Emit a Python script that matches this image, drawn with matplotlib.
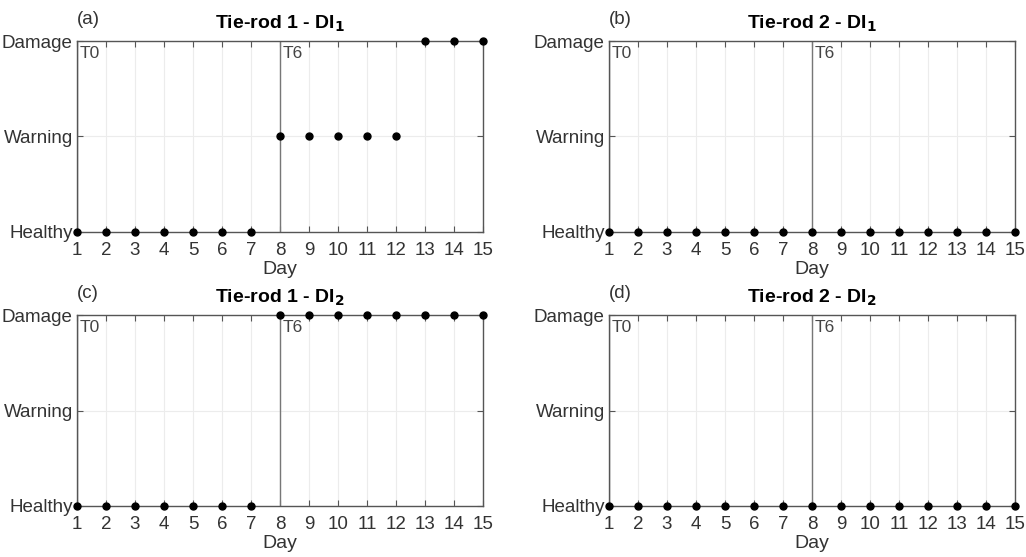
import matplotlib.pyplot as plt
import numpy as np

plt.rcParams['font.family'] = ['Liberation Sans', 'DejaVu Sans']

# Datos
days = np.arange(1, 16)
state_labels = ['Healthy', 'Warning', 'Damage']
# 0 = Healthy, 1 = Warning, 2 = Damage
tr1_di1 = [0, 0, 0, 0, 0, 0, 0, 1, 1, 1, 1, 1, 2, 2, 2]
tr2_di1 = [0, 0, 0, 0, 0, 0, 0, 0, 0, 0, 0, 0, 0, 0, 0]
tr1_di2 = [0, 0, 0, 0, 0, 0, 0, 2, 2, 2, 2, 2, 2, 2, 2]
tr2_di2 = [0, 0, 0, 0, 0, 0, 0, 0, 0, 0, 0, 0, 0, 0, 0]

panels = [
    ('(a)', 'Tie-rod 1 - DI$_\\mathbf{1}$', tr1_di1),
    ('(b)', 'Tie-rod 2 - DI$_\\mathbf{1}$', tr2_di1),
    ('(c)', 'Tie-rod 1 - DI$_\\mathbf{2}$', tr1_di2),
    ('(d)', 'Tie-rod 2 - DI$_\\mathbf{2}$', tr2_di2),
]
markers_at = [('T0', 1), ('T6', 8)]

fig = plt.figure(figsize=(10.26, 5.57), dpi=100)
W, H = 1026, 557
boxes = [(77, 41), (609, 41), (77, 315), (609, 315)]
aw, ah = 406, 191

frame_col = '#555555'
for (lbl, title, vals), (x0, y0) in zip(panels, boxes):
    ax = fig.add_axes([x0 / W, 1 - (y0 + ah) / H, aw / W, ah / H])
    ax.set_xlim(1, 15)
    ax.set_ylim(0, 2)
    ax.set_xticks(days)
    ax.set_yticks([0, 1, 2])
    ax.set_yticklabels(state_labels)
    ax.grid(True, color='#ececec', linewidth=0.8)
    for name, d in markers_at:
        ax.axvline(d, color='#777777', linewidth=1.0)
        ax.text(d + 0.08, 1.95, name, va='top', ha='left', fontsize=12.5, color='#444444')
    ax.plot(days, vals, 'o', color='black', markersize=5, clip_on=False, zorder=5)
    ax.tick_params(direction='in', top=True, right=True, length=4, color=frame_col,
                   labelsize=13.5, labelcolor='#333333')
    ax.tick_params(axis='x', pad=7)
    ax.tick_params(axis='y', pad=3)
    for sp in ax.spines.values():
        sp.set_color(frame_col)
        sp.set_linewidth(1.0)
    ax.set_xlabel('Day', fontsize=14, color='#333333', labelpad=2)
    ax.set_title(title, fontsize=14, fontweight='bold', pad=9)
    ax.text(0.0, 1.07, lbl, transform=ax.transAxes, fontsize=13.5, color='#333333',
            ha='left', va='bottom')

fig.savefig('out.png', dpi=100)
